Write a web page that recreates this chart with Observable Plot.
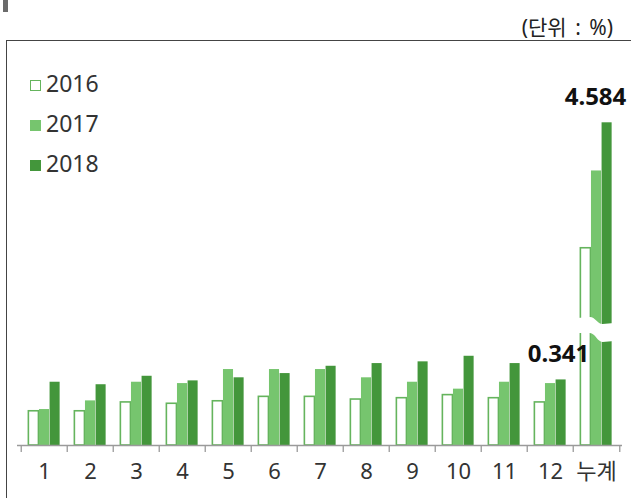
<!DOCTYPE html>
<html>
<head>
<meta charset="utf-8">
<script src="https://cdn.jsdelivr.net/npm/d3@7"></script>
<script src="https://cdn.jsdelivr.net/npm/@observablehq/plot@0.6"></script>
<style>
  html, body { margin: 0; padding: 0; background: #fff; }
  body { font-family: "Noto Sans", "Noto Sans CJK KR", sans-serif; }
  #wrap { position: relative; width: 631px; height: 498px; overflow: hidden; }
  #chart { position: absolute; left: 0; top: 0; }
  .mark { position: absolute; left: 3px; top: 0; width: 5px; height: 12px; background: #6b6b6b; }
  .frame { position: absolute; left: 6px; top: 40px; width: 640px; height: 470px; border-top: 1.3px solid #444; border-left: 1.3px solid #444; }
  .unit { position: absolute; right: 18px; top: 15px; font-size: 21px; line-height: 24px; color: #222; word-spacing: 3px; }
  .legend { position: absolute; left: 30px; top: 0; }
  .item { position: absolute; left: 0; height: 24px; line-height: 24px; font-size: 23px; color: #333; white-space: nowrap; }
  .sw { display: inline-block; width: 11px; height: 11px; box-sizing: border-box; margin-right: 5px; vertical-align: 1px; }
</style>
</head>
<body>
<div id="wrap">
  <div class="mark"></div>
  <div class="frame"></div>
  <div id="chart"></div>
  <div class="unit">(단위 : %)</div>
  <div class="legend" id="legend"></div>
</div>
<script>
// ---- data ----
const categories = ["1","2","3","4","5","6","7","8","9","10","11","12","누계"];
const years = ["2016","2017","2018"];
const v2016 = [0.178,0.178,0.224,0.217,0.230,0.253,0.253,0.239,0.246,0.262,0.246,0.224, 2.75];
const v2017 = [0.187,0.232,0.329,0.322,0.395,0.395,0.395,0.352,0.329,0.293,0.329,0.322, 3.88];
const v2018 = [0.329,0.316,0.360,0.336,0.352,0.374,0.412,0.426,0.435,0.464,0.426,0.341, 4.584];
const labelMonth = [{cat: "12", v: 0.341, text: "0.341"}];
const labelTotal = [{cat: "누계", v: 4.584, text: "4.584"}];
const breakLow = 0.572, breakHigh = 1.65; // axis break for 누계

const colors = {"2016": "#65b45d", "2017": "#76c56e", "2018": "#43963b"};

const rows = years.flatMap((yr, i) => {
  const vals = [v2016, v2017, v2018][i];
  return categories.map((c, j) => ({cat: c, year: yr, v: vals[j]}));
});

// broken-axis transform: low segment, compressed gap, high segment
const lowSlope = 192.3, highSlope = 68.4, gapPx = 12;
function brk(v) {
  if (v <= breakLow) return v * lowSlope;
  if (v <= breakHigh) return breakLow * lowSlope + (v - breakLow) / (breakHigh - breakLow) * gapPx;
  return breakLow * lowSlope + gapPx + (v - breakHigh) * highSlope;
}

const W = 631, H = 498, ML = 17, MR = 9, MB = 53, MT = 40;
const step = (W - ML - MR) / categories.length;
const barW = 10.6;
const baseInset = (step - barW) / 2;
function insets(k) { // k = -1,0,1
  return {insetLeft: baseInset + k * barW, insetRight: baseInset - k * barW};
}

const font = '"Noto Sans", "Noto Sans CJK KR", sans-serif';

const breakMark = (index, scales, values, dimensions, context) => {
  const xc = scales.x("누계") + step / 2;
  const yTop = scales.y(brk(breakHigh));
  const yBot = scales.y(brk(breakLow));
  const xL = xc - barW * 1.5 - 3, xR = xc + barW * 1.5 + 2;
  const x0 = xc - barW / 2 - 1, x1 = xc + barW / 2 + 1;
  const p = `M${xL},${yTop - 5} L${x0},${yTop - 6} C${x0 + 5},${yTop - 6} ${x1 - 5},${yTop + 1} ${x1},${yTop + 1} L${xR},${yTop}`
          + ` L${xR},${yBot + 6} L${x1},${yBot + 7} C${x1 - 5},${yBot + 7} ${x0 + 5},${yBot - 2} ${x0},${yBot - 2} L${xL},${yBot - 2} Z`;
  return d3.create("svg:path").attr("d", p).attr("fill", "white").node();
};

const chart = Plot.plot({
  width: W, height: H,
  marginLeft: ML, marginRight: MR, marginTop: MT, marginBottom: MB,
  style: {fontFamily: font, background: "transparent", overflow: "visible"},
  x: {type: "band", domain: categories, padding: 0, axis: null, label: null},
  y: {type: "linear", transform: brk, domain: [0, brk(4.584)], range: [H - MB, 122.3], axis: null},
  marks: [
    Plot.barY(rows.filter(d => d.year === "2016"), {x: "cat", y: "v", fill: "white", stroke: colors["2016"], strokeWidth: 1.6, ...insets(-1)}),
    Plot.barY(rows.filter(d => d.year === "2017"), {x: "cat", y: "v", fill: colors["2017"], ...insets(0)}),
    Plot.barY(rows.filter(d => d.year === "2018"), {x: "cat", y: "v", fill: colors["2018"], ...insets(1)}),
    breakMark,
    Plot.ruleY([0], {stroke: "#9a9a9a", strokeWidth: 1.3}),
    Plot.axisX({ticks: categories, tickSize: 7, tickFormat: () => "", dx: -step / 2, stroke: "#9a9a9a", strokeWidth: 1.3, label: null}),
    Plot.axisX({ticks: ["누계"], tickSize: 7, tickFormat: () => "", dx: step / 2, stroke: "#9a9a9a", strokeWidth: 1.3, label: null}),
    Plot.axisX({ticks: categories, tickSize: 0, tickPadding: 18, fontSize: 22, fill: "#333", label: null}),
    Plot.text(labelMonth, {x: "cat", y: "v", text: "text", dx: 8, dy: -26, fontSize: 24, fontWeight: "bold", fill: "#111"}),
    Plot.text(labelTotal, {x: "cat", y: "v", text: "text", dx: -1, dy: -25, fontSize: 24, fontWeight: "bold", fill: "#111"})
  ]
});
document.getElementById("chart").appendChild(chart);

// legend
const legend = document.getElementById("legend");
const legendY = [83, 123, 162.5];
years.forEach((yr, i) => {
  const it = document.createElement("div");
  it.className = "item";
  it.style.top = (legendY[i] - 12) + "px";
  const sw = document.createElement("span");
  sw.className = "sw";
  if (yr === "2016") { sw.style.background = "#fff"; sw.style.border = "1.5px solid " + colors["2016"]; }
  else sw.style.background = colors[yr];
  it.appendChild(sw);
  it.appendChild(document.createTextNode(yr));
  legend.appendChild(it);
});
</script>
</body>
</html>
